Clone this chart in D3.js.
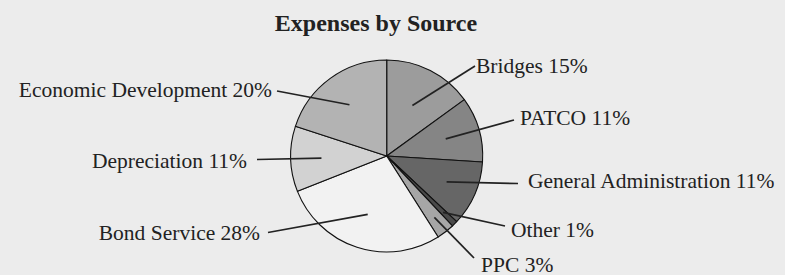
<!DOCTYPE html>
<html><head><meta charset="utf-8">
<script src="https://cdn.jsdelivr.net/npm/d3@7"></script>
<style>
html,body{margin:0;padding:0;background:#ececec;}
svg{display:block;}
</style></head>
<body>
<svg id="chart" width="785" height="275"></svg>
<script>
// Data
const categories = ["Bridges","PATCO","General Administration","Other","PPC","Bond Service","Depreciation","Economic Development"];
const values = [15, 11, 11, 1, 3, 28, 11, 20];
const colors = ["#9c9c9c","#858585","#666666","#4a4a4a","#a6a6a6","#f2f2f2","#d2d2d2","#b3b3b3"];
const title = "Expenses by Source";

// Label layout (annotation positions)
const labelX = [476, 520, 528, 511, 481, 260, 247, 272];
const labelY = [72.5, 124.5, 187.5, 236.5, 271.5, 240, 167.5, 96.5];
const labelAnchor = ["start","start","start","start","start","end","end","end"];
const lineEndX = [475, 514, 518, 505, 474, 268, 257, 277];
const lineEndY = [66, 120, 183.5, 226, 258, 232.5, 159.5, 91];
const innerK = [0.59, 0.64, 0.68, 0.83, 0.81, 0.64, 0.68, 0.66];

const svg = d3.select("#chart");
const cx = 386.7, cy = 156, r = 96;

svg.append("text").attr("x", 376).attr("y", 31).attr("text-anchor","middle")
  .attr("font-family","'Liberation Serif', 'Times New Roman', serif").attr("font-weight","bold")
  .attr("font-size", 24).attr("fill","#222").text(title);

const data = categories.map((c,i)=>({name:c, value:values[i], i}));
const pie = d3.pie().value(d=>d.value).sort(null);
const arcs = pie(data);
const arc = d3.arc().innerRadius(0).outerRadius(r);

const g = svg.append("g").attr("transform", `translate(${cx},${cy})`);
g.selectAll("path.slice").data(arcs).enter().append("path")
  .attr("class","slice")
  .attr("d", arc)
  .attr("fill", d=>colors[d.data.i])
  .attr("stroke","#111").attr("stroke-width",1.1).attr("stroke-linejoin","round");

// leader lines
g.selectAll("line.leader").data(arcs).enter().append("line")
  .attr("class","leader")
  .each(function(d){
    const k = innerK[d.data.i]*r;
    const p = d3.arc().innerRadius(k).outerRadius(k).centroid(d);
    d3.select(this).attr("x1",p[0]).attr("y1",p[1])
      .attr("x2", lineEndX[d.data.i]-cx).attr("y2", lineEndY[d.data.i]-cy);
  })
  .attr("stroke","#222").attr("stroke-width",1.7);

svg.selectAll("text.lbl").data(arcs).enter().append("text")
  .attr("class","lbl")
  .attr("x", d=>labelX[d.data.i]).attr("y", d=>labelY[d.data.i])
  .attr("text-anchor", d=>labelAnchor[d.data.i])
  .attr("font-family","'Liberation Serif', 'Times New Roman', serif").attr("font-size",21.5)
  .attr("fill","#222")
  .text(d=>`${d.data.name} ${d.data.value}%`);
</script>
</body></html>
